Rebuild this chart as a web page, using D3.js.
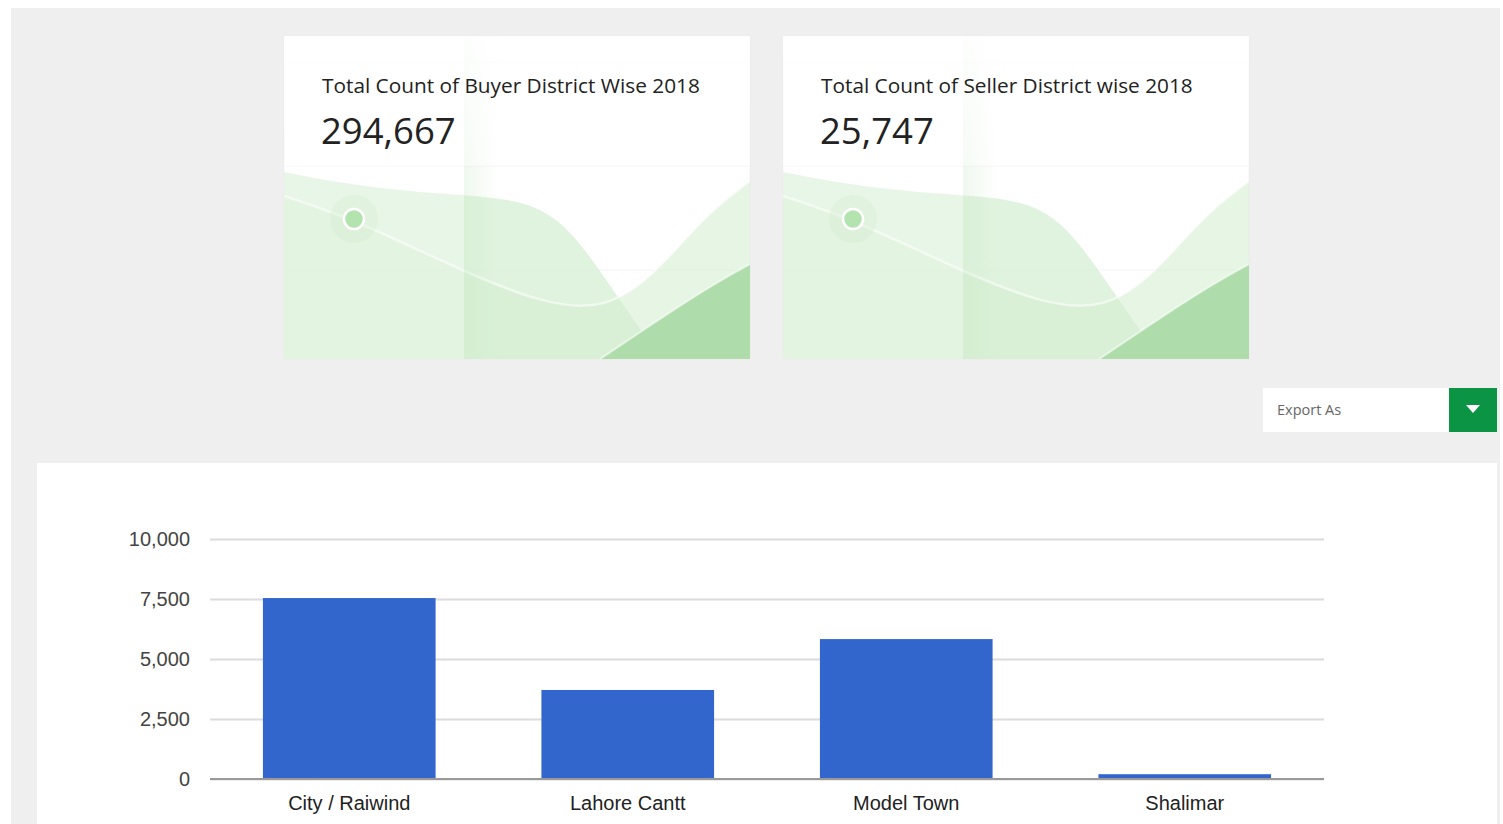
<!DOCTYPE html>
<html>
<head>
<meta charset="utf-8">
<script src="https://cdn.jsdelivr.net/npm/d3@7"></script>
<style>
  html, body { margin: 0; padding: 0; background: #fff; }
  svg { display: block; }
</style>
</head>
<body>
<div id="chart"></div>
<script>
// data
var cardTitles = ["Total Count of Buyer District Wise 2018", "Total Count of Seller District wise 2018"];
var cardTotals = [294667, 25747];
var districts = ["City / Raiwind", "Lahore Cantt", "Model Town", "Shalimar"];
var counts = [7540, 3710, 5830, 200];
var yTicks = [0, 2500, 5000, 7500, 10000];

var W = 1503, H = 824;
var fmt = d3.format(",");

var svg = d3.select("#chart").append("svg")
    .attr("width", W)
    .attr("height", H);

// grey dashboard background
svg.append("rect")
    .attr("x", 11).attr("y", 8)
    .attr("width", 1489).attr("height", H - 8)
    .attr("fill", "#efefef");

var defs = svg.append("defs");
var grad = defs.append("linearGradient").attr("id", "colShade")
    .attr("x1", "0").attr("x2", "1").attr("y1", "0").attr("y2", "0");
grad.append("stop").attr("offset", "0").attr("stop-color", "#c9e9c6").attr("stop-opacity", 0.3);
grad.append("stop").attr("offset", "0.12").attr("stop-color", "#c9e9c6").attr("stop-opacity", 0.0);
var topFade = defs.append("linearGradient").attr("id", "topFade")
    .attr("x1", "0").attr("x2", "0").attr("y1", "0").attr("y2", "1");
topFade.append("stop").attr("offset", "0").attr("stop-color", "#fff").attr("stop-opacity", 0.85);
topFade.append("stop").attr("offset", "1").attr("stop-color", "#fff").attr("stop-opacity", 0.4);

// KPI cards
var cardW = 466, cardH = 323;
var cardX = [284, 783], cardY = 36;

var smooth = d3.line().curve(d3.curveBasis);
var fillUnder = d3.area().curve(d3.curveBasis)
    .x(function(d) { return d[0]; })
    .y1(function(d) { return d[1]; })
    .y0(cardH + 5);
var waveA = [[0, 136], [60, 148], [150, 158], [236, 162], [280, 185], [320, 240], [360, 300], [400, 350], [420, 380]];
var waveB = [[0, 160], [70, 183], [180, 236], [260, 268], [320, 274], [370, 240], [420, 180], [466, 145]];
var waveC = [[316, 323], [380, 280], [430, 248], [466, 228]];

cardTitles.forEach(function(t, i) {
    var g = svg.append("g")
        .attr("transform", "translate(" + cardX[i] + "," + cardY + ")");
    var clipId = "cardClip" + i;
    defs.append("clipPath").attr("id", clipId)
        .append("rect").attr("width", cardW).attr("height", cardH);

    g.append("rect")
        .attr("width", cardW).attr("height", cardH)
        .attr("fill", "#fff")
        .attr("stroke", "#e6e6e6").attr("stroke-width", 0.5);

    var deco = g.append("g").attr("clip-path", "url(#" + clipId + ")");

    // faint horizontal guides
    [26, 130, 234].forEach(function(y) {
        deco.append("line").attr("x1", 0).attr("x2", cardW)
            .attr("y1", y).attr("y2", y)
            .attr("stroke", "#f3f3f3").attr("stroke-width", 1);
    });

    // wave A (lightest)
    deco.append("path")
        .attr("d", fillUnder(waveA))
        .attr("fill", "#dbf1d8").attr("opacity", 0.85);
    // wave B
    deco.append("path")
        .attr("d", fillUnder(waveB))
        .attr("fill", "#d3edcf").attr("opacity", 0.55);
    deco.append("path")
        .attr("d", smooth(waveB))
        .attr("fill", "none").attr("stroke", "#fff")
        .attr("stroke-opacity", 0.55).attr("stroke-width", 2.5);
    // wave C (darkest)
    deco.append("path")
        .attr("d", fillUnder(waveC))
        .attr("fill", "#afdcab");
    deco.append("path")
        .attr("d", smooth(waveC))
        .attr("fill", "none").attr("stroke", "#fff")
        .attr("stroke-opacity", 0.6).attr("stroke-width", 2);

    // left column lighter, right column shade edge
    deco.append("rect")
        .attr("x", 0).attr("y", 0).attr("width", 180).attr("height", cardH)
        .attr("fill", "#fff").attr("opacity", 0.28);
    deco.append("rect")
        .attr("x", 180).attr("y", 0).attr("width", cardW - 180).attr("height", cardH)
        .attr("fill", "url(#colShade)");
    deco.append("rect")
        .attr("x", 0).attr("y", 0).attr("width", cardW).attr("height", 130)
        .attr("fill", "url(#topFade)");

    // marker
    deco.append("circle").attr("cx", 70).attr("cy", 183).attr("r", 24)
        .attr("fill", "#cfeccb").attr("opacity", 0.3);
    deco.append("circle").attr("cx", 70).attr("cy", 183).attr("r", 10)
        .attr("fill", "#b3e3af").attr("stroke", "#fff").attr("stroke-width", 2.5);

    g.append("text")
        .attr("x", 38).attr("y", 57)
        .attr("font-family", "'Open Sans', 'Noto Sans', sans-serif")
        .attr("font-size", 20.8)
        .attr("fill", "#222")
        .text(t);
    g.append("text")
        .attr("x", 37).attr("y", 108)
        .attr("font-family", "'Open Sans', 'Noto Sans', sans-serif")
        .attr("font-size", 36.5)
        .attr("fill", "#222")
        .text(fmt(cardTotals[i]));
});

// export control
var exp = svg.append("g").attr("transform", "translate(1263,388)");
exp.append("rect").attr("width", 186).attr("height", 44).attr("fill", "#fff");
exp.append("text")
    .attr("x", 14).attr("y", 27)
    .attr("font-family", "'Open Sans', 'Noto Sans', sans-serif")
    .attr("font-size", 14.5)
    .attr("fill", "#666")
    .text("Export As");
exp.append("rect").attr("x", 186).attr("width", 48).attr("height", 44).attr("fill", "#0b9444");
exp.append("path")
    .attr("d", "M203,17 L217,17 L210,25 Z")
    .attr("fill", "#fff");

// chart panel
svg.append("rect")
    .attr("x", 37).attr("y", 463)
    .attr("width", 1460).attr("height", H - 463)
    .attr("fill", "#fff");

var plot = {left: 210, right: 1324, top: 539, bottom: 779};

var x = d3.scaleBand()
    .domain(districts)
    .range([plot.left, plot.right])
    .paddingInner(0.38)
    .paddingOuter(0.19);

var y = d3.scaleLinear()
    .domain([0, 10000])
    .range([plot.bottom, plot.top]);

var gridG = svg.append("g")
    .attr("transform", "translate(" + plot.left + ",0)")
    .call(d3.axisLeft(y)
        .tickValues(yTicks)
        .tickSize(-(plot.right - plot.left))
        .tickPadding(20)
        .tickFormat(fmt));
gridG.select(".domain").remove();
gridG.selectAll(".tick line")
    .attr("stroke", "#dcdcdc").attr("stroke-width", 2);
gridG.selectAll(".tick text")
    .attr("font-family", "Arial, 'Liberation Sans', sans-serif")
    .attr("font-size", 20)
    .attr("fill", "#444");

svg.append("g").selectAll("rect")
    .data(districts)
    .enter()
    .append("rect")
    .attr("x", function(d) { return x(d); })
    .attr("y", function(d, i) { return y(counts[i]); })
    .attr("width", x.bandwidth())
    .attr("height", function(d, i) { return y(0) - y(counts[i]); })
    .attr("fill", "#3366cc");

// baseline
svg.append("line")
    .attr("x1", plot.left).attr("x2", plot.right)
    .attr("y1", y(0)).attr("y2", y(0))
    .attr("stroke", "#999").attr("stroke-width", 2);

var xAxis = svg.append("g")
    .attr("transform", "translate(0," + plot.bottom + ")")
    .call(d3.axisBottom(x).tickSize(0).tickPadding(17));
xAxis.select(".domain").remove();
xAxis.selectAll(".tick text")
    .attr("font-family", "Arial, 'Liberation Sans', sans-serif")
    .attr("font-size", 20)
    .attr("fill", "#222");
</script>
</body>
</html>
